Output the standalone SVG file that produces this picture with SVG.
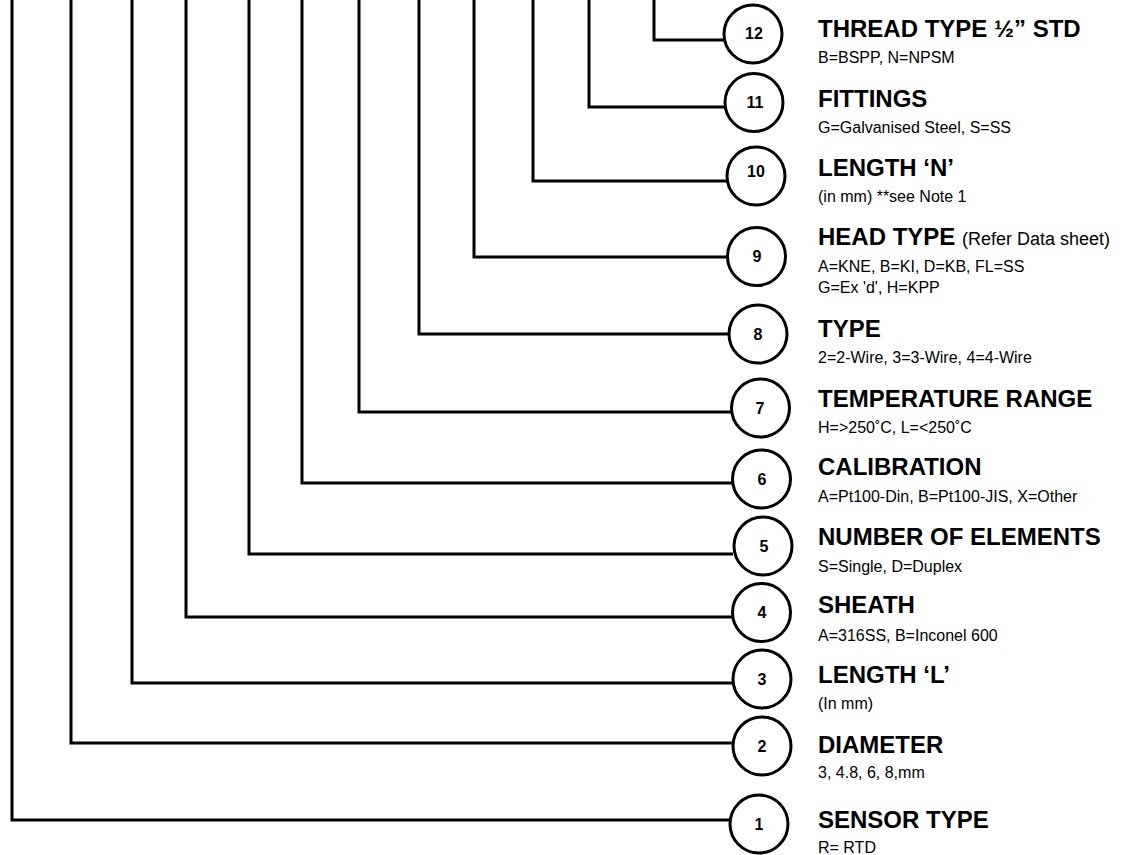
<svg xmlns="http://www.w3.org/2000/svg" width="1124" height="855" viewBox="0 0 1124 855">
<style>
.c{fill:#fff;stroke:#000;stroke-width:3}
.n{font-family:"Liberation Sans",Arial,sans-serif;font-weight:bold;font-size:16px;text-anchor:middle;fill:#000}
.t{font-family:"Liberation Sans",Arial,sans-serif;font-weight:bold;font-size:24px;fill:#000}
.s{font-family:"Liberation Sans",Arial,sans-serif;font-size:16px;fill:#000}
.r{font-family:"Liberation Sans",Arial,sans-serif;font-size:18px;font-weight:normal}
.w{fill:none;stroke:#000;stroke-width:3;stroke-linejoin:miter}
</style>
<rect width="1124" height="855" fill="#fff"/>
<g id="connectors">
<path class="w" d="M654,-2V40H724"/>
<path class="w" d="M589,-2V107H725"/>
<path class="w" d="M533,-2V181H727"/>
<path class="w" d="M474,-2V257H727"/>
<path class="w" d="M419,-2V334H728"/>
<path class="w" d="M359,-2V412H731"/>
<path class="w" d="M302,-2V483H732"/>
<path class="w" d="M249,-2V554H733"/>
<path class="w" d="M186,-2V617H732"/>
<path class="w" d="M132,-2V683H733"/>
<path class="w" d="M71,-2V743H733"/>
<path class="w" d="M12,-2V820H730"/>
</g>
<g id="node12"><circle class="c" cx="753" cy="34" r="29"/><text class="n" x="754" y="39">12</text>
<text class="t" x="818" y="37">THREAD TYPE ½” STD</text><text class="s" x="818" y="63">B=BSPP, N=NPSM</text></g>
<g id="node11"><circle class="c" cx="754" cy="102.5" r="29"/><text class="n" x="755" y="108">11</text>
<text class="t" x="818" y="107">FITTINGS</text><text class="s" x="818" y="133">G=Galvanised Steel, S=SS</text></g>
<g id="node10"><circle class="c" cx="756" cy="176" r="29"/><text class="n" x="756" y="177">10</text>
<text class="t" x="818" y="176">LENGTH ‘N’</text><text class="s" x="818" y="202">(in mm) **see Note 1</text></g>
<g id="node9"><circle class="c" cx="756.5" cy="256.5" r="29"/><text class="n" x="757" y="262">9</text>
<text class="t" x="818" y="245">HEAD TYPE <tspan class="r">(Refer Data sheet)</tspan></text><text class="s" x="818" y="272">A=KNE, B=KI, D=KB, FL=SS</text><text class="s" x="818" y="293">G=Ex 'd', H=KPP</text></g>
<g id="node8"><circle class="c" cx="758" cy="334" r="29"/><text class="n" x="758" y="340">8</text>
<text class="t" x="818" y="337">TYPE</text><text class="s" x="818" y="363">2=2-Wire, 3=3-Wire, 4=4-Wire</text></g>
<g id="node7"><circle class="c" cx="760.5" cy="408" r="29"/><text class="n" x="760" y="414">7</text>
<text class="t" x="818" y="407">TEMPERATURE RANGE</text><text class="s" x="818" y="433">H=&gt;250˚C, L=&lt;250˚C</text></g>
<g id="node6"><circle class="c" cx="761.5" cy="479" r="29"/><text class="n" x="762" y="485">6</text>
<text class="t" x="818" y="475">CALIBRATION</text><text class="s" x="818" y="502">A=Pt100-Din, B=Pt100-JIS, X=Other</text></g>
<g id="node5"><circle class="c" cx="763" cy="546" r="29"/><text class="n" x="764" y="552">5</text>
<text class="t" x="818" y="545">NUMBER OF ELEMENTS</text><text class="s" x="818" y="572">S=Single, D=Duplex</text></g>
<g id="node4"><circle class="c" cx="761.5" cy="612.5" r="29"/><text class="n" x="762" y="618">4</text>
<text class="t" x="818" y="613">SHEATH</text><text class="s" x="818" y="641">A=316SS, B=Inconel 600</text></g>
<g id="node3"><circle class="c" cx="762" cy="679" r="29"/><text class="n" x="762" y="685">3</text>
<text class="t" x="818" y="683">LENGTH ‘L’</text><text class="s" x="818" y="709">(In mm)</text></g>
<g id="node2"><circle class="c" cx="762" cy="746" r="29"/><text class="n" x="762" y="752">2</text>
<text class="t" x="818" y="753">DIAMETER</text><text class="s" x="818" y="778">3, 4.8, 6, 8,mm</text></g>
<g id="node1"><circle class="c" cx="759" cy="824" r="29"/><text class="n" x="759" y="830">1</text>
<text class="t" x="818" y="828">SENSOR TYPE</text><text class="s" x="818" y="853">R= RTD</text></g>
</svg>
